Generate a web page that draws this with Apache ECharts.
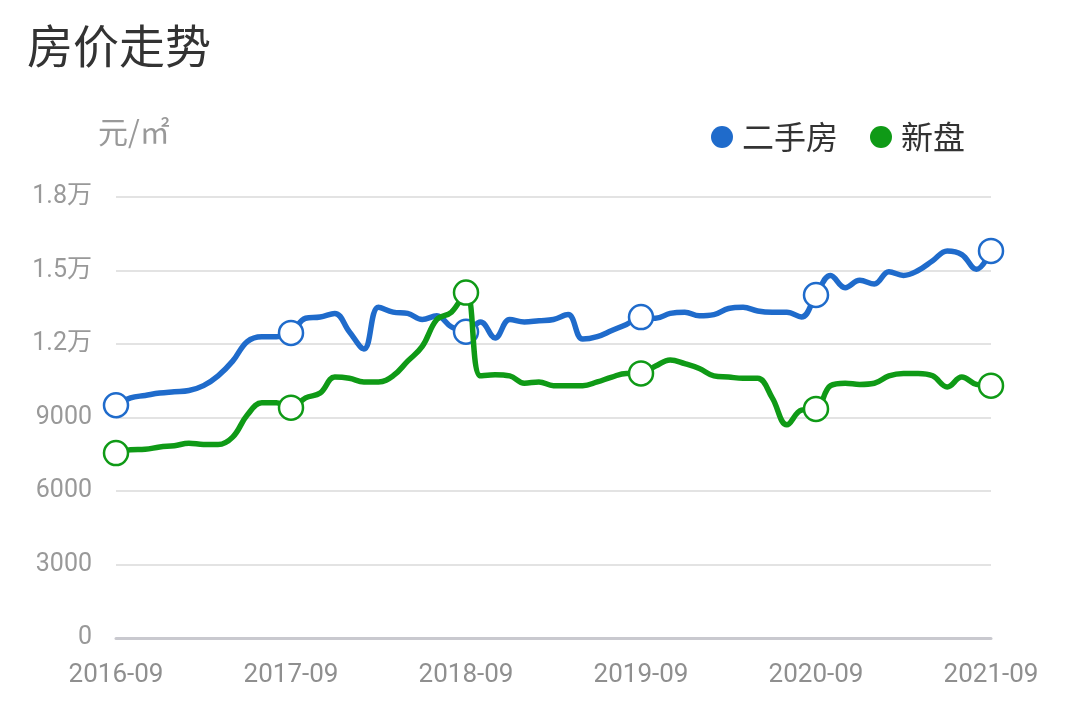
<!DOCTYPE html>
<html>
<head>
<meta charset="utf-8">
<script src="https://cdn.jsdelivr.net/npm/echarts@6/dist/echarts.min.js"></script>
<style>
  html, body { margin: 0; padding: 0; background: #fff; }
  #main { width: 1080px; height: 725px; }
</style>
</head>
<body>
<div id="main"></div>
<script>
// 月份 2016-09 ~ 2021-09
var months = [];
for (var y = 2016, m = 9; y < 2021 || (y == 2021 && m <= 9); m++) {
  if (m > 12) { m = 1; y++; }
  months.push(y + '-' + (m < 10 ? '0' + m : m));
}

// 二手房 元/㎡
var ershou = [
  9500, 9800, 9900, 10000, 10050, 10100, 10300, 10700, 11300, 12100,
  12300, 12300, 12450, 13050, 13100, 13250, 12500, 11800, 13500, 13300,
  13250, 13000, 13150, 12700, 12500, 12900, 12250, 13000, 12900, 12950,
  13000, 13200, 12200, 12300, 12550, 12800, 13100, 13050, 13250, 13300,
  13150, 13200, 13450, 13500, 13350, 13300, 13300, 13100, 14000, 14800,
  14300, 14600, 14450, 14950, 14800, 15000, 15400, 15800, 15650, 15050,
  15800
];

// 新盘 元/㎡
var xinpan = [
  7550, 7680, 7700, 7800, 7850, 7950, 7900, 7900, 8200, 9100,
  9600, 9600, 9400, 9800, 10000, 10650, 10600, 10450, 10450, 10700,
  11300, 11900, 13000, 13300, 14100, 10700, 10750, 10700, 10400, 10450,
  10300, 10300, 10300, 10450, 10650, 10800, 10800, 11100, 11350, 11200,
  11000, 10700, 10650, 10600, 10600, 9800, 8700, 9300, 9350, 10300,
  10400, 10350, 10400, 10700, 10800, 10800, 10700, 10250, 10650, 10350,
  10300
];

var yTicks = [0, 3000, 6000, 9000, 12000, 15000, 18000];

var blue = '#1f6bcb', green = '#0f9a16';

// 只在每年9月显示空心圆点
function withMarks(arr) {
  return arr.map(function (v, i) {
    return i % 12 === 0 ? v : { value: v, symbol: 'none' };
  });
}

var chart = echarts.init(document.getElementById('main'));
chart.setOption({
  backgroundColor: '#fff',
  animation: false,
  textStyle: { fontFamily: 'Roboto, "Noto Sans CJK SC", sans-serif' },
  title: [{
    text: '房价走势', left: 22, top: 18,
    textStyle: { fontSize: 46, fontWeight: 'normal', color: '#333', fontFamily: '"Noto Sans CJK SC", sans-serif' }
  }, {
    text: '元/㎡', left: 93, top: 112,
    textStyle: { fontSize: 30, fontWeight: 'normal', color: '#999', fontFamily: '"Noto Sans CJK SC", sans-serif' }
  }],
  legend: {
    right: 110, top: 116,
    icon: 'circle', itemWidth: 22, itemHeight: 22, itemGap: 32,
    textStyle: { fontSize: 32, color: '#333', fontFamily: '"Noto Sans CJK SC", sans-serif', padding: [0, 0, 0, 4] },
    data: [
      { name: '二手房', itemStyle: { color: blue, borderWidth: 0 } },
      { name: '新盘', itemStyle: { color: green, borderWidth: 0 } }
    ]
  },
  grid: { left: 116, right: 89, top: 197, bottom: 87 },
  xAxis: {
    type: 'category',
    boundaryGap: false,
    data: months,
    axisLine: { lineStyle: { color: '#c9c9cf', width: 3 } },
    axisTick: { show: false },
    axisLabel: { interval: 11, color: '#8f8f8f', fontSize: 26, margin: 24 }
  },
  yAxis: {
    type: 'value',
    min: yTicks[0], max: yTicks[yTicks.length - 1], interval: 3000,
    axisLine: { show: false },
    axisTick: { show: false },
    splitLine: { lineStyle: { color: '#e3e3e3', width: 2 } },
    axisLabel: {
      color: '#999', fontSize: 25, margin: 24, padding: [8, 0, 0, 0],
      formatter: function (v) { return v >= 10000 ? (v / 10000) + '万' : v; }
    }
  },
  series: [{
    name: '二手房', type: 'line', smooth: 0.4,
    data: withMarks(ershou),
    color: blue,
    symbol: 'circle', symbolSize: 24, showAllSymbol: true,
    lineStyle: { width: 5.5, color: blue },
    itemStyle: { color: '#fff', borderColor: blue, borderWidth: 2.5 },
    z: 3
  }, {
    name: '新盘', type: 'line', smooth: 0.4,
    data: withMarks(xinpan),
    color: green,
    symbol: 'circle', symbolSize: 24, showAllSymbol: true,
    lineStyle: { width: 5.5, color: green },
    itemStyle: { color: '#fff', borderColor: green, borderWidth: 2.5 },
    z: 4
  }]
});
</script>
</body>
</html>
